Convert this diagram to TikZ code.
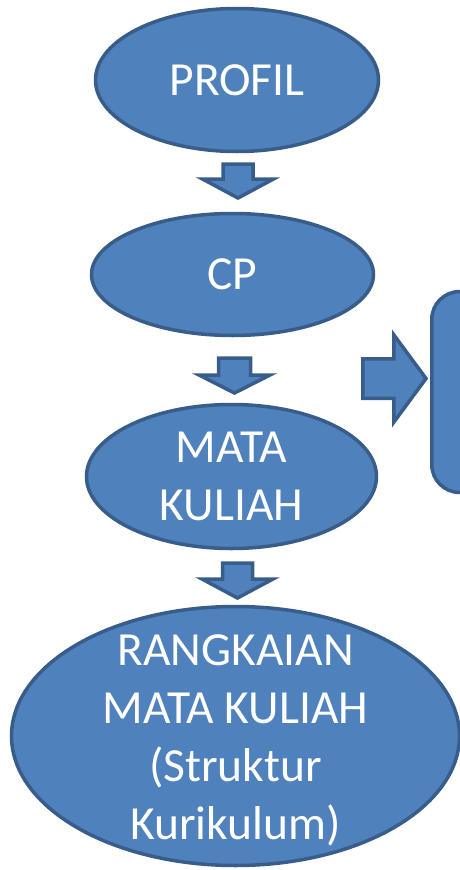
\documentclass[tikz,border=0pt]{standalone}
\usepackage{fontspec}
\setmainfont{Carlito}
\usetikzlibrary{shapes.geometric}
\definecolor{blockfill}{HTML}{4F81BD}
\definecolor{blockline}{HTML}{385D8A}
\tikzset{
  oval/.style={ellipse,draw=blockline,fill=blockfill,line width=3.5pt,inner sep=0pt},
  ovaltext/.style={text=white,align=center,inner sep=0pt,font=\fontsize{47.5}{58}\selectfont},
  blockarrow/.style={draw=blockline,fill=blockfill,line width=3.5pt,line join=miter},
}
\begin{document}
\begin{tikzpicture}[x=1pt,y=-1pt]
\clip (0,0) rectangle (460,870);
% the chain of ovals
\node [oval,minimum width=283pt,minimum height=143pt,label={[ovaltext]center:PROFIL}] (profil) at (237,80) {};
\node [oval,minimum width=282pt,minimum height=122pt,label={[ovaltext]center:CP}] (cp) at (232.5,274.5) {};
\node [oval,minimum width=290pt,minimum height=144pt,label={[ovaltext]center:MATA\\KULIAH}] (mk) at (231.5,476.5) {};
\node [oval,minimum width=448pt,minimum height=259pt,
  label={[ovaltext,yshift=-4pt]center:RANGKAIAN\\MATA KULIAH\\(Struktur\\Kurikulum)}] (rk) at (235.5,736) {};

% block arrows between them (tips)
\coordinate (tip1) at (238,198);
\coordinate (tip2) at (234.5,393);
\coordinate (tip3) at (237.5,598);
\draw [blockarrow] (tip1) -- ++(-35.5,-19) -- ++(20.5,0) -- ++(0,-15) -- ++(30,0) -- ++(0,15) -- ++(20.5,0) -- cycle;
\draw [blockarrow] (tip2) -- ++(-35.5,-18) -- ++(19.5,0) -- ++(0,-17) -- ++(32,0) -- ++(0,17) -- ++(19.5,0) -- cycle;
\draw [blockarrow] (tip3) -- ++(-35.5,-19) -- ++(20.5,0) -- ++(0,-16) -- ++(30,0) -- ++(0,16) -- ++(20.5,0) -- cycle;

% box on the right
\node [draw=blockline,fill=blockfill,line width=3.5pt,rounded corners=28pt,outer sep=0pt,
  minimum width=200pt,minimum height=201pt,anchor=north west] (box) at (431.75,291.5) {};
\coordinate (tip4) at (426,378.5);
\draw [blockarrow] (tip4) -- ++(-32.25,-43.75) -- ++(0,24) -- ++(-31,0) -- ++(0,39.5) -- ++(31,0) -- ++(0,24) -- cycle;
\end{tikzpicture}
\end{document}
